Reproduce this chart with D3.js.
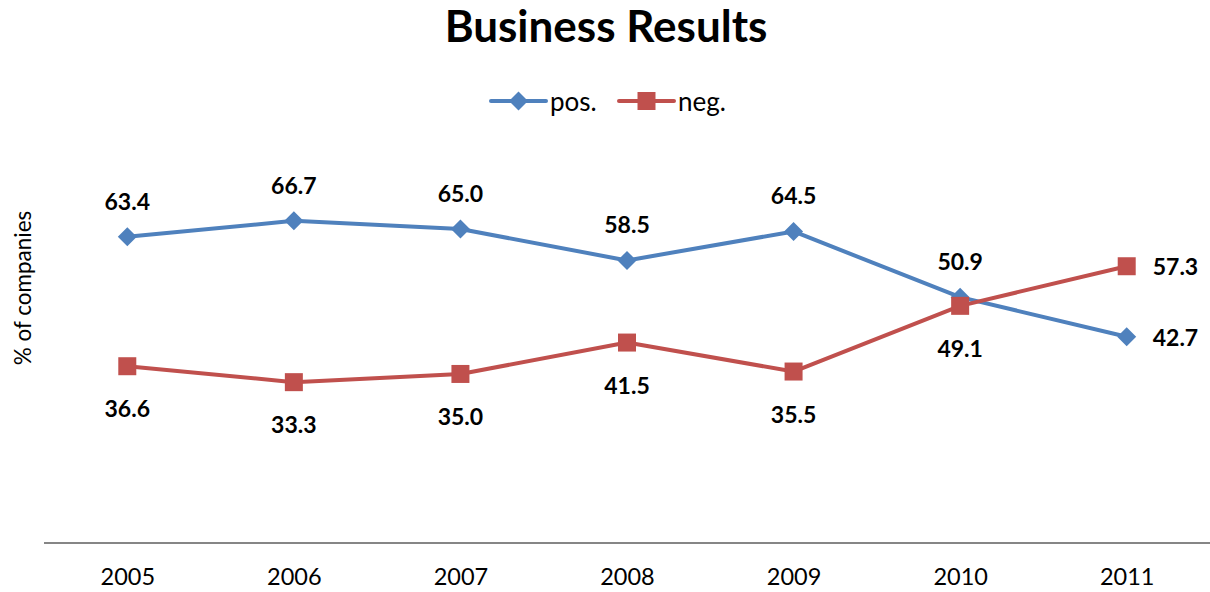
<!DOCTYPE html>
<html><head><meta charset="utf-8">
<script src="https://cdn.jsdelivr.net/npm/d3@7"></script>
<style>body{margin:0;background:#fff;} svg{display:block;font-family:Lato,"Open Sans",sans-serif;}</style>
</head><body><svg id="c" width="1210" height="592"></svg>
<script>
const years = ["2005","2006","2007","2008","2009","2010","2011"];
const posValues = [63.4, 66.7, 65.0, 58.5, 64.5, 50.9, 42.7];
const negValues = [36.6, 33.3, 35.0, 41.5, 35.5, 49.1, 57.3];
const seriesNames = ["pos.", "neg."];

const svg = d3.select("#c");
const blue = "#4F81BD", red = "#C0504D";
const x = d3.scalePoint().domain(years).range([44, 1210]).padding(0.5);
const y = d3.scaleLinear().domain([0, 100]).range([543, 60]);

svg.append("text").attr("x", 606).attr("y", 42).attr("text-anchor", "middle")
  .attr("font-size", 44).attr("font-weight", "bold").text("Business Results");

// axis
const xAxis = d3.axisBottom(x).tickSize(0).tickPadding(25);
const ga = svg.append("g").attr("transform", `translate(0,${y(0)})`).call(xAxis);
ga.select(".domain").attr("stroke", "#868686").attr("stroke-width", 2).attr("d", "M44,0H1210");
ga.selectAll("text").attr("font-size", 23.5).attr("fill", "#000").attr("font-family", "Lato,'Open Sans',sans-serif");

svg.append("text").attr("transform", "translate(31,288) rotate(-90)").attr("text-anchor", "middle")
  .attr("font-size", 22.5).text("% of companies");

const line = d3.line().x((d, i) => x(years[i])).y(d => y(d));
const diamond = "M0,-9.5L9.5,0L0,9.5L-9.5,0Z";
const square = "M-9,-9H9V9H-9Z";

function drawSeries(vals, color, sym, labelPos) {
  svg.append("path").datum(vals).attr("d", line).attr("fill", "none")
    .attr("stroke", color).attr("stroke-width", 4).attr("stroke-linejoin", "round");
  svg.selectAll(null).data(vals).enter().append("path")
    .attr("d", sym).attr("fill", color)
    .attr("transform", (d, i) => `translate(${x(years[i])},${y(d)})`);
  svg.selectAll(null).data(vals).enter().append("text")
    .attr("font-size", 23).attr("font-weight", "bold").attr("dominant-baseline", "central")
    .attr("text-anchor", (d, i) => i === vals.length - 1 ? "start" : "middle")
    .attr("x", (d, i) => i === vals.length - 1 ? x(years[i]) + 26 : x(years[i]))
    .attr("y", (d, i) => i === vals.length - 1 ? y(d) : y(d) + labelPos)
    .text(d => d.toFixed(1));
}
drawSeries(posValues, blue, diamond, -36);
drawSeries(negValues, red, square, 42);

// legend
const lg = svg.append("g");
const legendItems = [{name: seriesNames[0], color: blue, sym: diamond, x: 491}, {name: seriesNames[1], color: red, sym: square, x: 619}];
legendItems.forEach(it => {
  lg.append("line").attr("x1", it.x).attr("x2", it.x + 55).attr("y1", 101).attr("y2", 101)
    .attr("stroke", it.color).attr("stroke-width", 4).attr("stroke-linecap", "round");
  lg.append("path").attr("d", it.sym).attr("fill", it.color).attr("transform", `translate(${it.x + 27.5},101)`);
  lg.append("text").attr("x", it.x + 59).attr("y", 101).attr("dominant-baseline", "central")
    .attr("font-size", 26).text(it.name);
});
</script></body></html>
